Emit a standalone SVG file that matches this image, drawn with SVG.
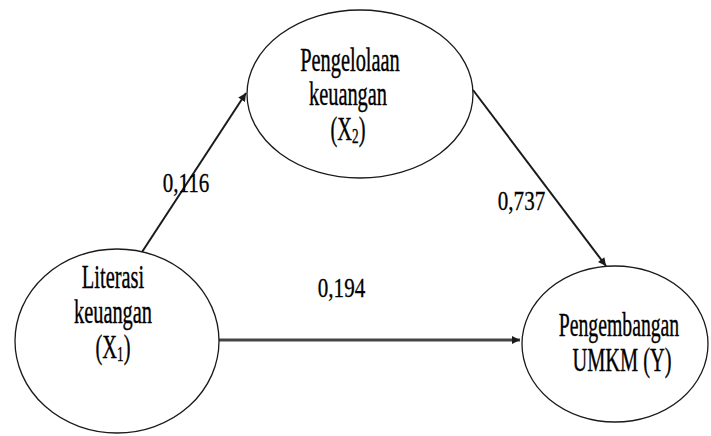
<svg xmlns="http://www.w3.org/2000/svg" width="711" height="436" viewBox="0 0 711 436">
<defs>
<style>
.node ellipse{fill:#fff;stroke:#1a1a1a;stroke-width:1.3}
.t{font-family:"Liberation Serif","Times New Roman",serif;font-size:34px;fill:#000;stroke:#000;stroke-width:0.4;text-anchor:middle}
.n{font-family:"Liberation Serif","Times New Roman",serif;font-size:27px;fill:#000;stroke:#000;stroke-width:0.3;text-anchor:middle}
.c{stroke:#1a1a1a;stroke-width:2;fill:none}
</style>
<marker id="ah" viewBox="0 0 10 10" refX="10" refY="5" markerWidth="10" markerHeight="8" markerUnits="userSpaceOnUse" orient="auto">
<path d="M0,0 L10,5 L0,10 z" fill="#1a1a1a"/>
</marker>
</defs>
<rect width="711" height="436" fill="#fff"/>
<g id="connectors">
<line class="c" x1="142" y1="252" x2="246" y2="93" marker-end="url(#ah)"/>
<line class="c" x1="473" y1="90" x2="606" y2="266" marker-end="url(#ah)"/>
<line class="c" x1="216" y1="340" x2="520" y2="340" style="stroke:#444;stroke-width:3" marker-end="url(#ah)"/>
<text class="n" transform="translate(186,192) scale(0.78,1)">0,116</text>
<text class="n" transform="translate(521.5,210) scale(0.78,1)">0,737</text>
<text class="n" transform="translate(341.5,297) scale(0.78,1)">0,194</text>
</g>
<g id="x2" class="node">
<ellipse cx="360" cy="94" rx="113" ry="84"/>
<text class="t" transform="translate(350,71) scale(0.6,1)">Pengelolaan</text>
<text class="t" transform="translate(348,105) scale(0.6,1)">keuangan</text>
<text class="t" transform="translate(348,140) scale(0.6,1)">(X<tspan font-size="22" dy="3">2</tspan><tspan dy="-3">)</tspan></text>
</g>
<g id="x1" class="node">
<ellipse cx="117" cy="341" rx="102" ry="92"/>
<text class="t" transform="translate(113,288) scale(0.6,1)">Literasi</text>
<text class="t" transform="translate(113,323) scale(0.6,1)">keuangan</text>
<text class="t" transform="translate(113,358) scale(0.6,1)">(X<tspan font-size="22" dy="3">1</tspan><tspan dy="-3">)</tspan></text>
</g>
<g id="y" class="node">
<ellipse cx="615" cy="344" rx="93" ry="78"/>
<text class="t" transform="translate(619,336) scale(0.58,1)">Pengembangan</text>
<text class="t" transform="translate(622,371) scale(0.6,1)">UMKM (Y)</text>
</g>
</svg>
